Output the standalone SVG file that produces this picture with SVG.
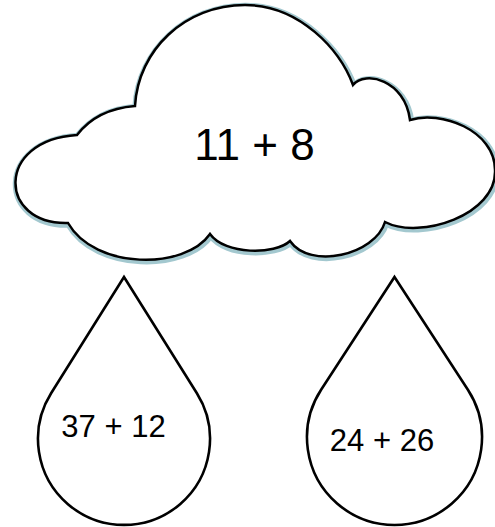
<svg xmlns="http://www.w3.org/2000/svg" width="495" height="527" viewBox="0 0 495 527">
<style>
.lbl{font-family:"Liberation Sans",Arial,sans-serif;fill:#000;text-anchor:middle}
.drop{fill:#fff;stroke:#000;stroke-width:2.6;stroke-linejoin:miter}
.halo{fill:none;stroke:#a3c8cf;stroke-width:7;stroke-linejoin:round}
.cloudline{fill:#fff;stroke:#000;stroke-width:2.5;stroke-linejoin:miter}
</style>
<defs>
<path id="cloudPath" d="M135 106 C138 50 185 5 245 5 C300 5 340 50 353 85 C365 70 405 80 410 120 C440 110 495 130 495 170 C497 215 420 240 385 222 C375 255 310 270 290 241 C275 255 225 255 210 234 C185 270 95 270 68 223 C-2 225 -5 140 77 135 C90 118 110 108 135 106 Z"/>
</defs>
<rect width="495" height="527" fill="#fff"/>
<g id="cloud">
<use href="#cloudPath" class="halo" transform="translate(0.8,1.2)"/>
<use href="#cloudPath" class="cloudline"/>
<text class="lbl" x="254.5" y="160" font-size="44">11 + 8</text>
</g>
<g id="drop1">
<path class="drop" d="M124 277 L196.9 393.3 A86 86 0 1 1 51.1 393.3 Z"/>
<text class="lbl" x="113.5" y="437" font-size="31">37 + 12</text>
</g>
<g id="drop2">
<path class="drop" d="M394.5 277 L467.9 389.8 A87.5 87.5 0 1 1 321.1 389.8 Z"/>
<text class="lbl" x="382" y="451" font-size="31">24 + 26</text>
</g>
<g id="connectors"/>
</svg>
